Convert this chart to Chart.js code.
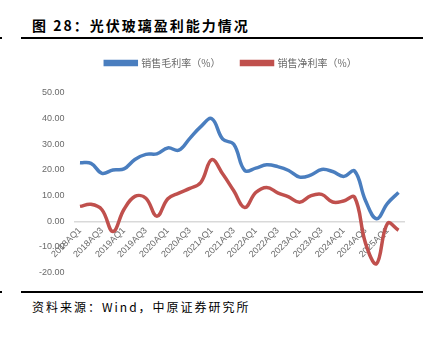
<!DOCTYPE html>
<html lang="zh">
  <head>
    <meta charset="UTF-8" />
    <title>光伏玻璃盈利能力情况</title>
    <style>
      body { margin: 0; background: #fff; }
      .page { position: relative; width: 439px; height: 337px; overflow: hidden; font-family: "Noto Sans CJK SC", sans-serif; }
      .title { position: absolute; left: 32px; top: 15px; font-size: 14px; font-weight: bold; letter-spacing: 2px; color: #000; white-space: nowrap; }
      .rule { position: absolute; left: 21px; width: 402px; height: 2px; background: #000; }
      .dot { position: absolute; left: 0; width: 2px; height: 2px; background: #000; }
      .source { position: absolute; left: 32px; top: 298px; font-size: 12px; letter-spacing: 2px; color: #000; white-space: nowrap; }
      #chartBox { position: absolute; left: 0; top: 45px; width: 439px; height: 243px; }
    </style>
  </head>
  <body>
    <div class="page">
      <div class="title">图 28：光伏玻璃盈利能力情况</div>
      <div class="rule" style="top:37px"></div>
      <div class="dot" style="top:37px"></div>
      <div id="chartBox"><canvas id="myChart"></canvas></div>
      <div class="rule" style="top:291px"></div>
      <div class="dot" style="top:291px"></div>
      <div class="source">资料来源：Wind，中原证券研究所</div>
    </div>

    <script src="https://cdn.jsdelivr.net/npm/chart.js"></script>
    <script>
      // quarters 2018Q1 .. 2025Q2
      const quarters = [
        "2018AQ1", "2018AQ2", "2018AQ3", "2018AQ4",
        "2019AQ1", "2019AQ2", "2019AQ3", "2019AQ4",
        "2020AQ1", "2020AQ2", "2020AQ3", "2020AQ4",
        "2021AQ1", "2021AQ2", "2021AQ3", "2021AQ4",
        "2022AQ1", "2022AQ2", "2022AQ3", "2022AQ4",
        "2023AQ1", "2023AQ2", "2023AQ3", "2023AQ4",
        "2024AQ1", "2024AQ2", "2024AQ3", "2024AQ4",
        "2025AQ1", "2025AQ2"
      ];
      const grossMargin = [
        22.8, 22.6, 18.7, 20.0, 20.4, 24.1, 26.1, 26.3, 28.6, 27.7,
        32.3, 36.9, 40.0, 32.0, 30.0, 19.8, 20.7, 22.0, 21.3, 19.8,
        17.2, 18.0, 20.2, 19.4, 17.5, 19.6, 8.0, 1.0, 7.0, 11.2
      ];
      const netMargin = [
        5.8, 6.6, 4.5, -4.0, 4.6, 9.7, 9.0, 2.0, 8.8, 11.0,
        12.8, 15.1, 24.0, 18.4, 11.9, 5.4, 11.2, 13.2, 11.1, 9.5,
        7.4, 9.9, 10.5, 7.5, 7.9, 9.4, -8.6, -16.5, -0.8, -3.5
      ];
      const yTicks = { min: -20, max: 50, step: 10 };

      const gray = "#6a6a6a";
      const ctx = document.getElementById("myChart");

      const myChart = new Chart(ctx, {
        type: "line",
        data: {
          labels: quarters,
          datasets: [
            {
              label: "销售毛利率（%）",
              data: grossMargin,
              borderColor: "#4a7ebf",
              backgroundColor: "#4a7ebf",
              borderWidth: 3.5,
              pointRadius: 0,
              tension: 0.4,
            },
            {
              label: "销售净利率（%）",
              data: netMargin,
              borderColor: "#c0504d",
              backgroundColor: "#c0504d",
              borderWidth: 3.5,
              pointRadius: 0,
              tension: 0.4,
            },
          ],
        },
        options: {
          responsive: true,
          maintainAspectRatio: false,
          animation: false,
          layout: { padding: { left: 58, right: 35, top: -8, bottom: 10 } },
          plugins: {
            legend: {
              position: "top",
              labels: {
                boxWidth: 31,
                boxHeight: 3,
                padding: 21,
                color: gray,
                font: { family: "Noto Sans CJK SC", size: 10 },
              },
            },
            tooltip: { enabled: false },
          },
          scales: {
            x: {
              position: { y: 0 },
              offset: true,
              grid: { display: false, drawTicks: false },
              border: { display: true, color: "#d9d9d9", width: 1.5 },
              afterFit: function (s) { s.paddingLeft = 0; s.paddingRight = 0; },
              ticks: {
                autoSkip: false,
                minRotation: 45,
                maxRotation: 45,
                padding: 4,
                color: gray,
                font: { family: "Liberation Sans", size: 9 },
                callback: function (val, i) {
                  return i % 2 === 0 ? quarters[i] : "";
                },
              },
            },
            // empty spacer between legend and plot
            xTop: {
              type: "category",
              labels: quarters,
              position: "top",
              grid: { display: false, drawTicks: false },
              border: { display: false },
              ticks: { display: false },
              afterFit: function (s) { s.height = 15; },
            },
            y: {
              min: yTicks.min,
              max: yTicks.max,
              afterFit: function (s) {
                s.width = 16.5;
                s._computeLabelArea = function () {}; // don't clip the labels
              },
              grid: { display: false, drawTicks: false },
              border: { display: false },
              ticks: {
                stepSize: yTicks.step,
                padding: 10,
                color: gray,
                font: { family: "Liberation Sans", size: 9 },
                callback: function (v) { return v.toFixed(2); },
              },
            },
          },
        },
      });
    </script>
  </body>
</html>
